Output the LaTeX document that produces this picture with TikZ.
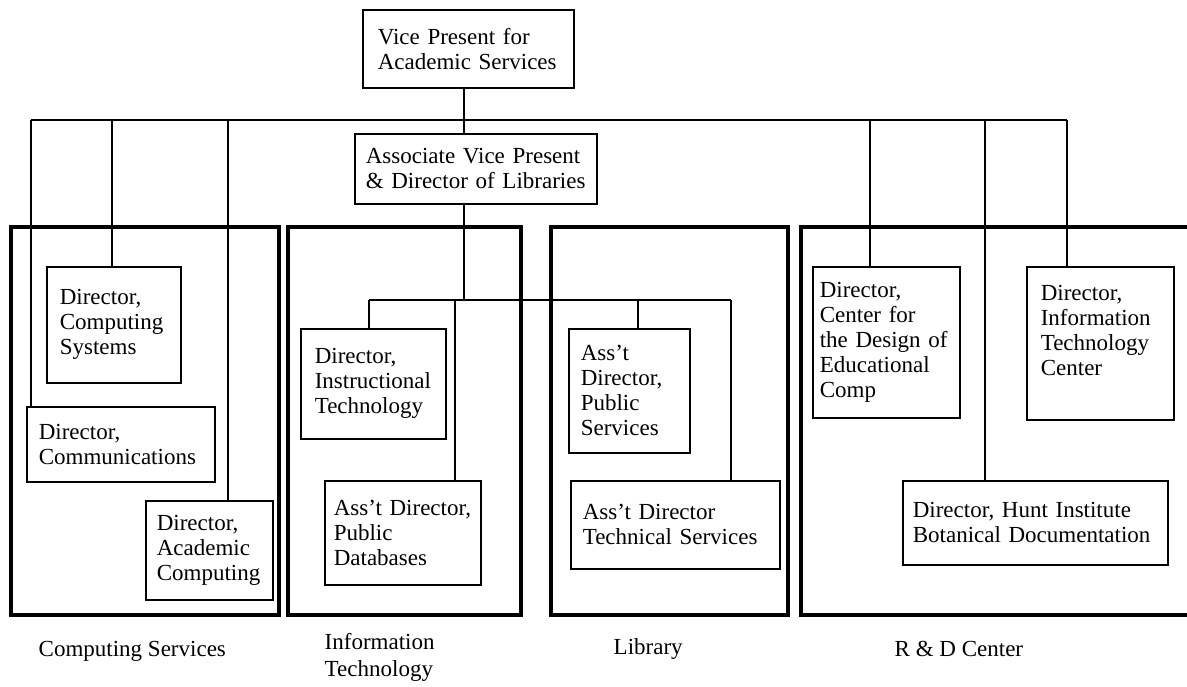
\documentclass[tikz,border=0pt]{standalone}
\usepackage{fontspec}
\setmainfont{Liberation Serif}

\begin{document}
\begin{tikzpicture}[x=0.75pt,y=-0.75pt,
    every node/.style={font=\fontsize{17.25}{18.75}\selectfont},
    post/.style n args={3}{draw, line width=1.2pt, anchor=north west,
      align=left, inner ysep=0pt, inner xsep={#3*0.75pt},
      text width={(#1-2*#3)*0.75pt}, minimum height={#2*0.75pt}},
    unit/.style={draw, line width=3pt},
    conn/.style={line width=1.1pt}]
    \useasboundingbox (0,0) rectangle (1187,686);
    \coordinate (bus) at (464,120);
    \coordinate (itbus) at (464,300);
    % the four units
    \draw[unit] (11,227) rectangle (279,615);
    \draw[unit] (288,227) rectangle (521,615);
    \draw[unit] (551,227) rectangle (788,615);
    \draw[unit] (801,227) rectangle (1200,615);
    % posts
    \node[post={211}{78}{15}] (vp) at (362,9) {Vice Present for\\Academic Services};
    \node[post={242}{70}{11}] (avp) at (354,133) {Associate Vice Present\\\& Director of Libraries};
    \node[post={134}{116}{13}] (csys) at (46,266) {Director,\\Computing\\Systems};
    \node[post={188}{75}{12}] (comm) at (26,406) {Director,\\Communications};
    \node[post={127}{99}{11}] (acad) at (145,500) {Director,\\Academic\\Computing};
    \node[post={145}{110}{14}] (instr) at (300,328) {Director,\\Instructional\\Technology};
    \node[post={156}{104}{9}] (pubdb) at (324,480) {Ass't Director,\\Public\\Databases};
    \node[post={121}{124}{12}] (pubsvc) at (568,328) {Ass't\\Director,\\Public\\Services};
    \node[post={209}{88}{12}] (techsvc) at (570,480) {Ass't Director\\Technical Services};
    \node[post={147}{151}{7}] (center) at (812,266) {Director,\\Center for\\the Design of\\Educational\\Comp};
    \node[post={147}{153}{14}] (itc) at (1026,266) {Director,\\Information\\Technology\\Center\\~};
    \node[post={265}{84}{10}] (hunt) at (902,480) {Director, Hunt Institute\\Botanical Documentation};
    % lines
    \draw[conn] (vp.south -| bus) -- (avp.north -| bus);
    \draw[conn] (bus -| 31,0) -- (bus -| 1067,0);
    \foreach \x/\n in {31/comm,112/csys,228/acad,870/center,985/hunt,1067/itc}
      \draw[conn] (bus -| \x,0) -- (\n.north -| \x,0);
    \draw[conn] (avp.south -| itbus) -- (itbus);
    \draw[conn] (itbus -| 369,0) -- (itbus -| 731,0);
    \foreach \x/\n in {369/instr,455/pubdb,638/pubsvc,731/techsvc}
      \draw[conn] (itbus -| \x,0) -- (\n.north -| \x,0);
    % unit names
    \node[anchor=west] (cslbl) at (34,651) {Computing Services};
    \node[anchor=west, align=left, font=\fontsize{17.25}{20.25}\selectfont] (itlbl) at (320,657) {Information\\Technology};
    \node[anchor=west] (liblbl) at (609,649) {Library};
    \node[anchor=west] (rdlbl) at (890,649) {R \& D Center};
\end{tikzpicture}
\end{document}
